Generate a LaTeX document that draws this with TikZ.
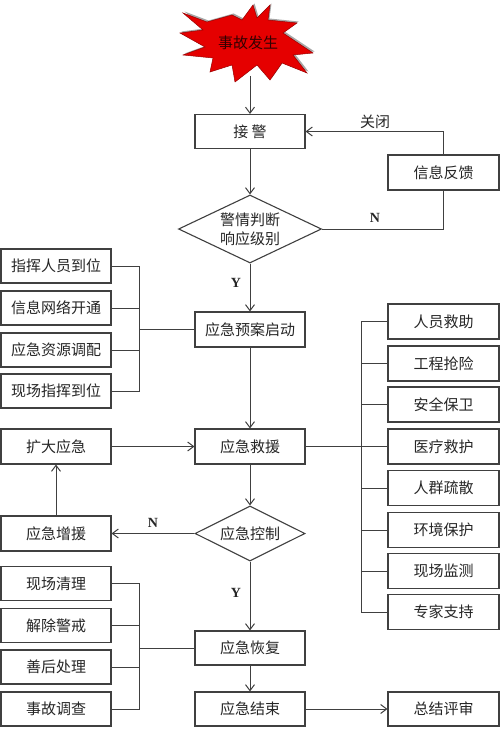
\documentclass[tikz,border=0pt]{standalone}
\usepackage{fontspec}
\newfontfamily\cjk{Noto Sans CJK SC}
\newfontfamily\ynfont{Liberation Serif}
\usetikzlibrary{arrows.meta,shapes.geometric}
\begin{document}
\begin{tikzpicture}[x=1pt,y=-1pt,
  line/.style={draw=black!75, line width=1pt},
  arr/.style={line, -{Straight Barb[length=6pt,width=9pt]}},
  box/.style={draw=black!75, line width=1.1pt, fill=white, minimum width=110pt, minimum height=34pt, inner sep=0pt, font=\cjk\fontsize{15}{18}\selectfont, text=black!85},
  rbox/.style={box, minimum width=111pt, minimum height=35pt},
  dia/.style={diamond, draw=black!75, line width=1.1pt, fill=white, inner sep=0pt, font=\cjk\fontsize{15}{19}\selectfont, text=black!85, align=center},
  lbl/.style={font=\cjk\fontsize{15}{18}\selectfont, text=black!85, inner sep=0pt},
  yn/.style={font=\ynfont\bfseries\fontsize{14}{16}\selectfont, text=black!85, inner sep=0pt}
]
\useasboundingbox (0,0) rectangle (500,730);
\fill[white] (0,0) rectangle (500,730);

% star
\def\starpts{(183,13) -- (207,22) -- (232,15) -- (242,20) -- (253,5) -- (257,18) -- (270,5) -- (268,20) -- (297,23) -- (283,33) -- (313,53) -- (293,55) -- (307,73) -- (282,63) -- (270,80) -- (257,65) -- (235,82) -- (232,65) -- (210,72) -- (213,58) -- (183,55) -- (205,47) -- (180,33) -- (203,30) -- cycle}
\fill[black!35, shift={(1.5pt,1.5pt)}] \starpts;
\filldraw[fill=red!90!black, draw=red!60!black, line width=0.5pt] \starpts;
\node[lbl, text=black!80!red] (star) at (248,43) {事故发生};
\coordinate (starbot) at (250,76);

\node[box] (jj) at (250,131.5) {接 警};
\node[rbox] (xxfk) at (443.5,172.5) {信息反馈};
\node[dia, aspect=2.1, minimum width=143pt, minimum height=68pt] (d1) at (250,229) {警情判断\\响应级别};
\node[box, minimum height=35pt] (yajd) at (250,329.5) {应急预案启动};

\node[box] (L1) at (56,266) {指挥人员到位};
\node[box] (L2) at (56,308) {信息网络开通};
\node[box] (L3) at (56,350) {应急资源调配};
\node[box] (L4) at (56,391) {现场指挥到位};

\node[box, minimum height=35pt] (kd) at (56,446.5) {扩大应急};
\node[box, minimum height=35pt] (jy) at (250,446.5) {应急救援};

\node[rbox] (R1) at (443.5,321.5) {人员救助};
\node[rbox] (R2) at (443.5,363.5) {工程抢险};
\node[rbox] (R3) at (443.5,404.5) {安全保卫};
\node[rbox] (R4) at (443.5,446.5) {医疗救护};
\node[rbox] (R5) at (443.5,488) {人群疏散};
\node[rbox] (R6) at (443.5,530) {环境保护};
\node[rbox] (R7) at (443.5,571) {现场监测};
\node[rbox] (R8) at (443.5,612) {专家支持};

\node[dia, aspect=2, minimum width=110pt, minimum height=55pt] (d2) at (250,533.5) {应急控制};
\node[box, minimum height=35pt] (zy) at (56,533.5) {应急增援};

\node[box] (B1) at (56,583.5) {现场清理};
\node[box] (B2) at (56,625.5) {解除警戒};
\node[box] (B3) at (56,667) {善后处理};
\node[box] (B4) at (56,709) {事故调查};

\node[box] (hf) at (250,648) {应急恢复};
\node[box] (js) at (250,709) {应急结束};
\node[rbox, minimum height=34pt] (zp) at (443.5,709) {总结评审};

% labels
\node[lbl] (gb) at (375,122) {关闭};
\node[yn] (n1) at (375,218) {N};
\node[yn] (y1) at (236,283) {Y};
\node[yn] (n2) at (153,523) {N};
\node[yn] (y2) at (236,593) {Y};

% connectors
\draw[arr] (starbot) -- (jj.north);
\draw[arr] (xxfk.north) |- (jj.east);
\draw[line] (d1.east) -| (xxfk.south);
\draw[arr] (jj) -- (d1);
\draw[arr] (d1) -- (yajd);

\coordinate (lb) at (139,329.5);
\draw[line] (L1.east) -| (lb);
\draw[line] (L4.east) -| (lb);
\draw[line] (L2.east) -- (L2.east -| lb);
\draw[line] (L3.east) -- (L3.east -| lb);
\draw[line] (lb) -- (yajd.west);

\draw[arr] (yajd) -- (jy);
\draw[arr] (kd) -- (jy);

\coordinate (rb) at (361,446.5);
\draw[line] (jy.east) -- (R4.west);
\draw[line] (R1.west) -| (rb);
\draw[line] (R8.west) -| (rb);
\foreach \r in {R2,R3,R5,R6,R7} \draw[line] (\r.west) -- (\r.west -| rb);

\draw[arr] (jy) -- (d2);
\draw[arr] (d2) -- (zy);
\draw[arr] (zy) -- (kd);
\draw[arr] (d2) -- (hf);
\draw[arr] (hf) -- (js);
\draw[arr] (js) -- (zp);

\coordinate (lb2) at (139,648);
\draw[line] (B1.east) -| (lb2);
\draw[line] (B4.east) -| (lb2);
\draw[line] (B2.east) -- (B2.east -| lb2);
\draw[line] (B3.east) -- (B3.east -| lb2);
\draw[line] (lb2) -- (hf.west);
\end{tikzpicture}
\end{document}
